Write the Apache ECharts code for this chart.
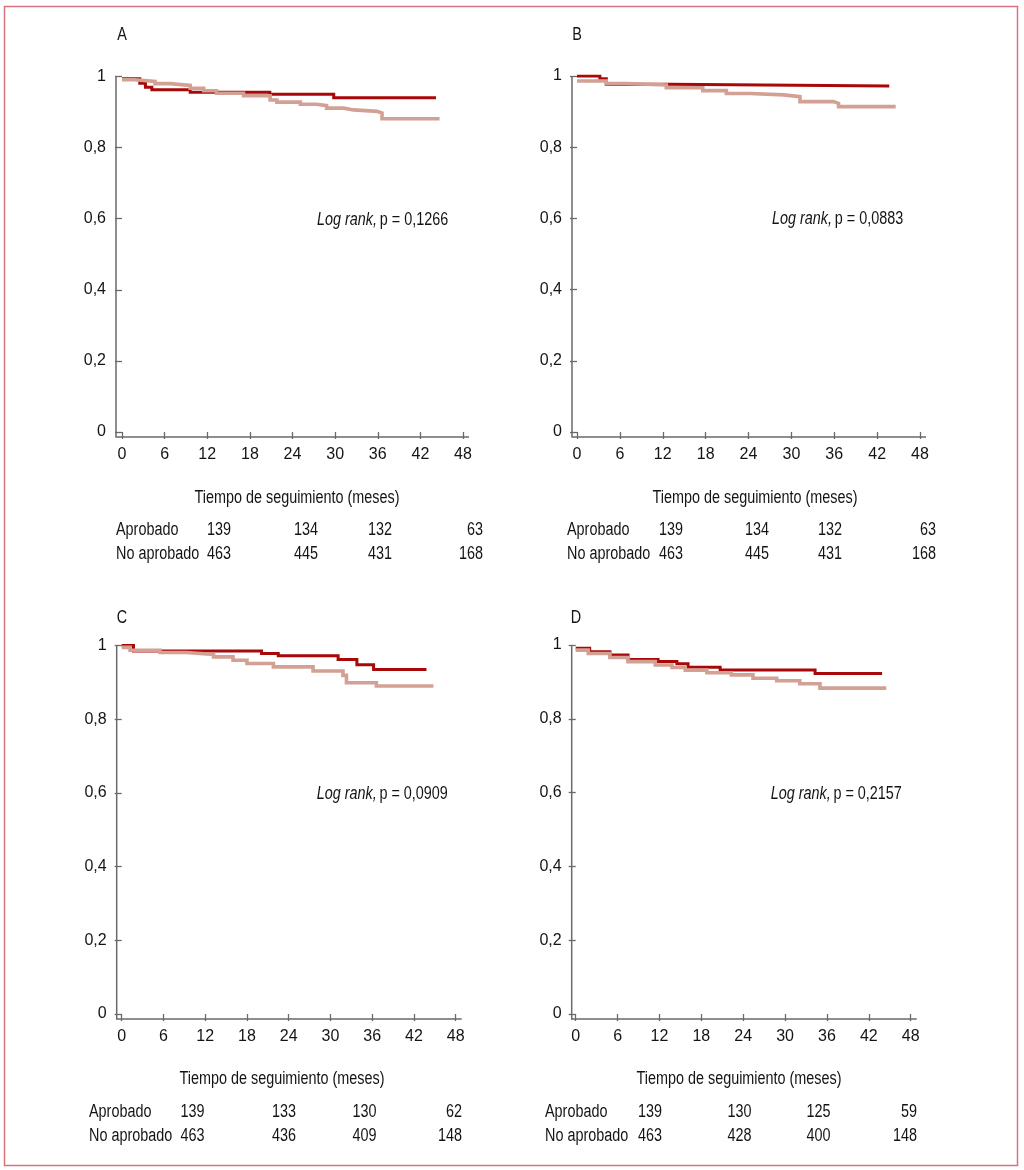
<!DOCTYPE html>
<html>
<head>
<meta charset="utf-8">
<script src="https://cdn.jsdelivr.net/npm/echarts@6/dist/echarts.min.js"></script>
<style>
html,body{margin:0;padding:0;background:#fff;}
#chart{width:1024px;height:1170px;}
</style>
</head>
<body>
<div id="chart"></div>
<script>
// ---------- DATA ----------
const panelLetters = ['A', 'B', 'C', 'D'];
const pValues = ['0,1266', '0,0883', '0,0909', '0,2157'];
const groupNames = ['Aprobado', 'No aprobado'];
const axisTitle = 'Tiempo de seguimiento (meses)';
const xTicks = [0, 6, 12, 18, 24, 30, 36, 42, 48];
const yTicks = [0, 0.2, 0.4, 0.6, 0.8, 1];

// numbers at risk
const riskA_aprob = [139, 134, 132, 63];
const riskA_no    = [463, 445, 431, 168];
const riskB_aprob = [139, 134, 132, 63];
const riskB_no    = [463, 445, 431, 168];
const riskC_aprob = [139, 133, 130, 62];
const riskC_no    = [463, 436, 409, 148];
const riskD_aprob = [139, 130, 125, 59];
const riskD_no    = [463, 428, 400, 148];

// Kaplan-Meier step curves: times (months) and survival
const aprobA_t = [0, 2.5, 3.3, 4.2, 9.6, 20.8, 29.8, 44.2];
const aprobA_s = [0.994, 0.981, 0.970, 0.963, 0.956, 0.950, 0.940, 0.940];
const noA_t = [0, 1.8, 4.65, 6.8, 9.6, 11.5, 13.3, 17.1, 20.85, 21.8, 25.1, 27.4, 28.8, 31.2, 32.6, 35.9, 36.6, 44.7];
const noA_s = [0.991, 0.986, 0.980, 0.975, 0.967, 0.960, 0.953, 0.946, 0.934, 0.928, 0.922, 0.918, 0.911, 0.906, 0.902, 0.897, 0.881, 0.881];

const aprobB_t = [0, 3.2, 4.1, 13.0, 43.7];
const aprobB_s = [1.0, 0.992, 0.977, 0.972, 0.972];
const noB_t = [0, 4.1, 6.9, 12.5, 17.6, 20.9, 24.2, 28.9, 31.2, 35.9, 36.6, 44.6];
const noB_s = [0.986, 0.979, 0.975, 0.967, 0.959, 0.951, 0.947, 0.942, 0.928, 0.923, 0.914, 0.914];

const aprobC_t = [0, 1.7, 20.1, 22.5, 31.1, 33.8, 36.2, 43.8];
const aprobC_s = [1.0, 0.985, 0.978, 0.972, 0.962, 0.948, 0.935, 0.935];
const noC_t = [0, 1.2, 5.5, 9.3, 13.2, 16.0, 18.0, 21.8, 27.5, 31.8, 32.3, 36.6, 44.8];
const noC_s = [0.995, 0.987, 0.981, 0.976, 0.969, 0.960, 0.951, 0.942, 0.931, 0.919, 0.899, 0.890, 0.890];

const aprobD_t = [0, 2.0, 4.9, 7.5, 11.8, 14.5, 16.1, 20.7, 34.3, 43.9];
const aprobD_s = [0.991, 0.982, 0.973, 0.961, 0.955, 0.949, 0.940, 0.932, 0.923, 0.923];
const noD_t = [0, 1.8, 4.9, 7.5, 11.4, 13.8, 15.7, 18.8, 22.3, 25.4, 28.8, 32.1, 35.0, 44.5];
const noD_s = [0.986, 0.977, 0.966, 0.955, 0.946, 0.939, 0.932, 0.925, 0.919, 0.910, 0.903, 0.895, 0.883, 0.883];

// ---------- LAYOUT / STYLE ----------
const FONT = "'Liberation Sans', Arial, sans-serif";
const NARROW = 0.8; // horizontal squeeze to mimic a condensed face
const FS = 18;
const RED = '#a80808';
const PINK = '#d3a094';
const AXIS = '#6a6a6a';
const TXT = '#141414';

const panels = [
  {grid:{left:122, top:76.5, width:341, height:355.5}, yOff:6, xOff:5, letter:[122,35], titleX:297, titleY:498,
   table:{labelX:116, cols:[219, 306, 380], lastRight:483, rows:[530, 554]},
   risk:[riskA_aprob, riskA_no], curves:[[aprobA_t, aprobA_s],[noA_t, noA_s]]},
  {grid:{left:577, top:76, width:343, height:356}, yOff:5, xOff:5, letter:[577,35], titleX:755, titleY:498,
   table:{labelX:567, cols:[671, 757, 830], lastRight:936, rows:[530, 554]},
   risk:[riskB_aprob, riskB_no], curves:[[aprobB_t, aprobB_s],[noB_t, noB_s]]},
  {grid:{left:121.7, top:645.5, width:334, height:368.5}, yOff:5, xOff:5, letter:[122,618], titleX:282, titleY:1079,
   table:{labelX:89, cols:[192.5, 284, 364.5], lastRight:462, rows:[1112, 1136]},
   risk:[riskC_aprob, riskC_no], curves:[[aprobC_t, aprobC_s],[noC_t, noC_s]]},
  {grid:{left:575.7, top:645, width:335, height:369}, yOff:4, xOff:5, letter:[576,618], titleX:739, titleY:1079,
   table:{labelX:545, cols:[650, 739.5, 818.5], lastRight:917, rows:[1112, 1136]},
   risk:[riskD_aprob, riskD_no], curves:[[aprobD_t, aprobD_s],[noD_t, noD_s]]}
];

function fmtY(v){
  if (Math.abs(v) < 1e-9) return '0';
  if (Math.abs(v - 1) < 1e-9) return '1';
  return v.toFixed(1).replace('.', ',');
}

const grids = [], xAxes = [], yAxes = [], series = [];
panels.forEach((p, i) => {
  grids.push(Object.assign({containLabel:false}, p.grid));
  xAxes.push({
    type:'value', gridIndex:i, min:xTicks[0], max:xTicks[xTicks.length-1], interval:6,
    offset:p.xOff,
    axisLine:{show:false},
    axisTick:{show:true, length:7, lineStyle:{color:AXIS, width:1.3}},
    axisLabel:{show:true, margin:10, color:TXT, fontSize:16, fontFamily:FONT},
    splitLine:{show:false}
  });
  yAxes.push({
    type:'value', gridIndex:i, min:yTicks[0], max:yTicks[yTicks.length-1], interval:0.2,
    offset:p.yOff,
    axisLine:{show:false},
    axisTick:{show:true, length:7, lineStyle:{color:AXIS, width:1.3}},
    axisLabel:{show:true, margin:10, color:TXT, fontSize:16, fontFamily:FONT, formatter:fmtY},
    splitLine:{show:false}
  });
  const colors = [RED, PINK];
  const widths = [3, 3.6];
  const zs = [2, 3];
  p.curves.forEach((c, k) => {
    const [t, s] = c;
    series.push({
      type:'line', name:groupNames[k], xAxisIndex:i, yAxisIndex:i,
      step:'end', showSymbol:false, symbol:'none', z:zs[k],
      lineStyle:{color:colors[k], width:widths[k], cap:'butt', join:'miter'},
      data:t.map((tt, j) => [tt, s[j]]),
      silent:true
    });
  });
});

const chart = echarts.init(document.getElementById('chart'), null, {renderer:'canvas'});
chart.setOption({
  animation:false,
  backgroundColor:'#fff',
  grid:grids, xAxis:xAxes, yAxis:yAxes, series:series
});

// ---------- decorations (axis lines, texts, table) ----------
function txt(x, y, text, align){
  return {type:'text', silent:true, x:x, y:y, scaleX:NARROW, scaleY:1,
    style:{text:text, font:FS + 'px ' + FONT, fill:TXT, align:align, verticalAlign:'middle'}};
}
const g = [];
g.push({type:'rect', shape:{x:4.5, y:6.5, width:1013, height:1159}, style:{fill:'none', stroke:'#d6737c', lineWidth:1.5}, silent:true});

panels.forEach((p, i) => {
  const p00 = chart.convertToPixel({gridIndex:i}, [0, 0]);
  const p01 = chart.convertToPixel({gridIndex:i}, [0, 1]);
  const p480 = chart.convertToPixel({gridIndex:i}, [48, 0]);
  const ax = p00[0] - p.yOff;
  const ay = p00[1] + p.xOff;
  g.push({type:'polyline', silent:true, z:10,
    shape:{points:[[ax, p01[1]], [ax, ay], [p480[0] + 6, ay]]},
    style:{stroke:AXIS, lineWidth:1.5, fill:'none'}});
  // panel letter
  g.push(txt(p.letter[0], p.letter[1], panelLetters[i], 'center'));
  // log rank
  const pLR = chart.convertToPixel({gridIndex:i}, [0, 0.6]);
  g.push({type:'text', silent:true, x:p00[0] + 195, y:pLR[1] + 1, scaleX:NARROW,
    style:{text:'{it|Log rank,} {n|p = ' + pValues[i] + '}', verticalAlign:'middle', align:'left',
      rich:{it:{fontStyle:'italic', fontSize:FS, fontFamily:FONT, fill:TXT},
            n:{fontSize:FS, fontFamily:FONT, fill:TXT}}}});
  // axis title
  g.push(txt(p.titleX, p.titleY, axisTitle, 'center'));
  // risk table
  p.risk.forEach((row, r) => {
    const y = p.table.rows[r];
    g.push(txt(p.table.labelX, y, groupNames[r], 'left'));
    row.forEach((v, c) => {
      const last = c === row.length - 1;
      g.push(txt(last ? p.table.lastRight : p.table.cols[c], y, String(v), last ? 'right' : 'center'));
    });
  });
});
chart.setOption({graphic:g});
</script>
</body>
</html>
